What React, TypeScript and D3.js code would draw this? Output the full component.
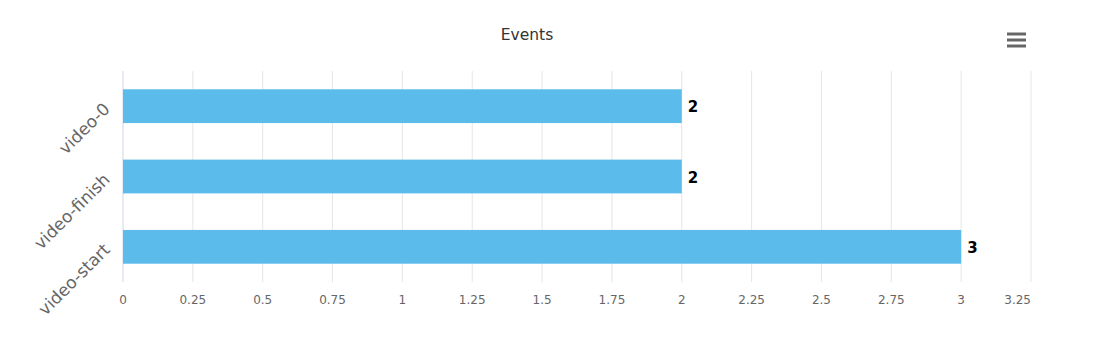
import React from "react";
import * as d3 from "d3";

const categories = ["video-0", "video-finish", "video-start"];
const values = [2, 2, 3];
const xTicks = [0, 0.25, 0.5, 0.75, 1, 1.25, 1.5, 1.75, 2, 2.25, 2.5, 2.75, 3, 3.25];
const title = "Events";

const W = 1096;
const H = 350;
const plot = { left: 123, right: 1031, top: 71, bottom: 282 };
const font = "'DejaVu Sans', 'Lucida Grande', Arial, sans-serif";

export default function App() {
  const x = d3.scaleLinear().domain([0, 3.25]).range([plot.left, plot.right]);
  const y = d3
    .scaleBand<string>()
    .domain(categories)
    .range([plot.top, plot.bottom])
    .paddingInner(0.52)
    .paddingOuter(0.26);
  const center = (c: string) => (y(c) as number) + y.bandwidth() / 2;
  const barH = y.bandwidth();

  return (
    <svg
      width={W}
      height={H}
      style={{ position: "absolute", left: 0, top: 0, background: "#fff" }}
      fontFamily={font}
    >
      <rect x={0} y={0} width={W} height={H} fill="#fff" />
      <text x={527} y={39.5} textAnchor="middle" fontSize={15.5} fill="#333">
        {title}
      </text>
      {/* menu icon */}
      {[34, 40, 46].map((yy) => (
        <line key={yy} x1={1007} x2={1026} y1={yy} y2={yy} stroke="#666" strokeWidth={3} />
      ))}
      {/* grid */}
      {xTicks.map((t) =>
        t === 0 ? null : (
          <line key={t} x1={x(t)} x2={x(t)} y1={plot.top} y2={plot.bottom} stroke="#e6e6e6" strokeWidth={1} />
        )
      )}
      <line x1={plot.left} x2={plot.left} y1={plot.top} y2={plot.bottom} stroke="#ccd6eb" strokeWidth={1} />
      {/* bars */}
      {categories.map((c, i) => (
        <rect
          key={c}
          x={x(0)}
          y={center(c) - barH / 2}
          width={x(values[i]) - x(0)}
          height={barH}
          fill="#5bbcec"
        />
      ))}
      {/* data labels */}
      {categories.map((c, i) => (
        <text
          key={c}
          x={x(values[i]) + 6}
          y={center(c) + 6}
          fontSize={15}
          fontWeight="bold"
          fill="#000"
          stroke="#fff"
          strokeWidth={2}
          paintOrder="stroke"
        >
          {values[i]}
        </text>
      ))}
      {/* x tick labels */}
      {xTicks.map((t, i) => (
        <text
          key={t}
          x={x(t)}
          y={304}
          textAnchor={i === xTicks.length - 1 ? "end" : "middle"}
          fontSize={12}
          fill="#666"
        >
          {String(t)}
        </text>
      ))}
      {/* category labels */}
      {categories.map((c) => {
        const ax = plot.left - 12;
        const ay = center(c) + 4;
        return (
          <text
            key={c}
            x={ax}
            y={ay}
            textAnchor="end"
            fontSize={17}
            fill="#666"
            transform={`rotate(-45 ${ax} ${ay})`}
          >
            {c}
          </text>
        );
      })}
    </svg>
  );
}
